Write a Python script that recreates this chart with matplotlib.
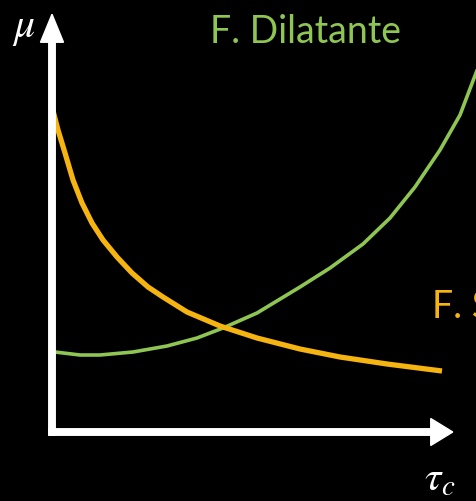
import matplotlib.pyplot as plt

plt.rcParams["mathtext.fontset"] = "stix"

# Viscosity vs shear stress sketch (arbitrary units, origin at the axes corner)
tau_pseudo = [0.00, 0.06, 0.13, 0.21, 0.30, 0.40, 0.51, 0.65, 0.80, 0.96, 1.11, 1.35,
              1.68, 2.05, 2.48, 2.88, 3.35, 3.90]
mu_pseudo = [3.25, 3.02, 2.79, 2.52, 2.29, 2.09, 1.92, 1.75, 1.59, 1.45, 1.35, 1.20,
             1.06, 0.94, 0.83, 0.75, 0.68, 0.61]

tau_dilat = [0.03, 0.28, 0.48, 0.81, 1.15, 1.45, 1.71, 2.05, 2.48, 2.78, 3.11, 3.38,
             3.63, 3.88, 4.08, 4.24, 4.33]
mu_dilat = [0.80, 0.77, 0.77, 0.80, 0.86, 0.94, 1.04, 1.19, 1.45, 1.64, 1.88, 2.14,
            2.45, 2.82, 3.17, 3.59, 3.84]

label_dilat = "F. Dilatante"
label_pseudo = "F. Seudoplástico"

GREEN = "#8FC653"
ORANGE = "#F6B411"

fig = plt.figure(figsize=(4.76, 5.01), dpi=100, facecolor="black")
ax = fig.add_axes([0, 0, 1, 1])
ax.set_facecolor("black")
ax.set_xlim(-0.52, 4.24)
ax.set_ylim(-0.69, 4.32)
ax.axis("off")

# axes with arrow heads
shaft = 0.065
ax.arrow(-shaft / 2, 0, 4.04, 0, width=shaft, head_width=0.27, head_length=0.22,
         length_includes_head=True, color="white", zorder=3)
ax.arrow(0, -shaft / 2, 0, 4.21, width=shaft, head_width=0.23, head_length=0.28,
         length_includes_head=True, color="white", zorder=3)

ax.plot(tau_dilat, mu_dilat, color=GREEN, lw=2.6, solid_capstyle="round",
        solid_joinstyle="round", zorder=2)
ax.plot(tau_pseudo, mu_pseudo, color=ORANGE, lw=3.8, solid_capstyle="butt",
        solid_joinstyle="round", zorder=2)

ax.text(-0.28, 4.05, r"$\mu$", color="white", fontsize=30, ha="center", va="center")
ax.text(3.88, -0.46, r"$\tau_c$", color="white", fontsize=30, ha="center", va="center")

ax.text(2.53, 3.89, label_dilat, color=GREEN, fontsize=27, family="Lato",
        ha="center", va="baseline")
ax.text(3.80, 1.14, label_pseudo, color=ORANGE, fontsize=27, family="Lato",
        ha="left", va="baseline", clip_on=False)

fig.savefig("out.png", dpi=100, facecolor="black")
